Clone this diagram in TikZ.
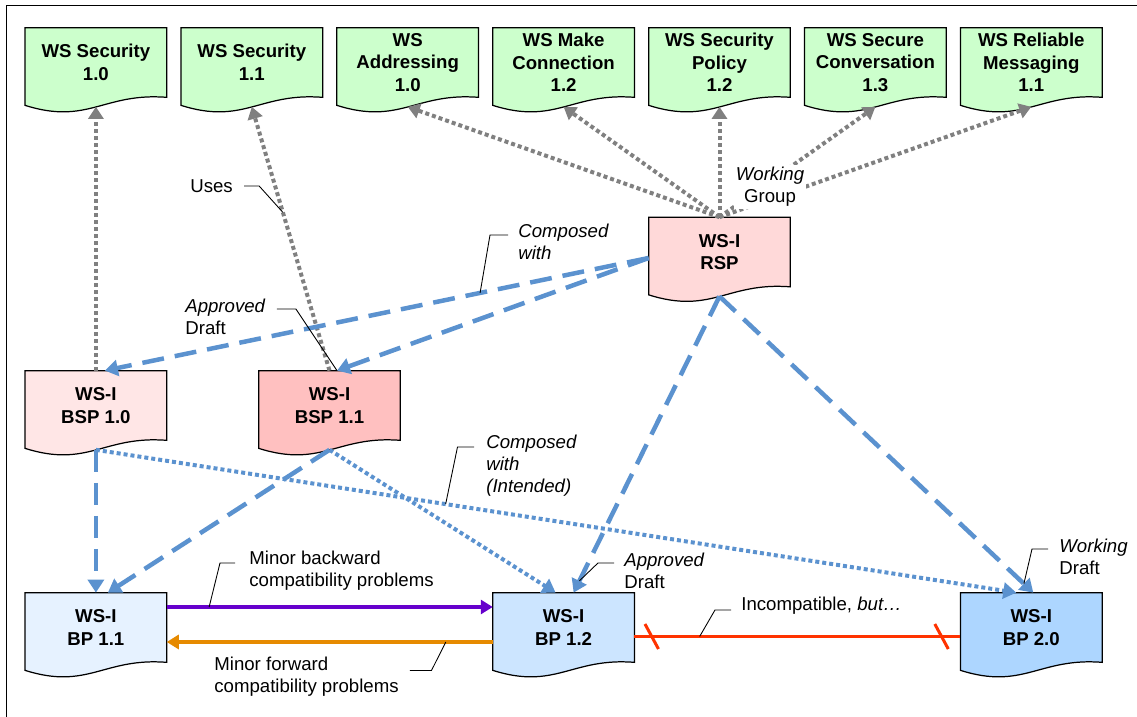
\documentclass[tikz,border=0pt]{standalone}
\usepackage{fontspec}
\setmainfont{Liberation Sans}
\usepackage{xcolor}
\usepackage{tikz}
\usetikzlibrary{arrows.meta}
\pgfdeclarelayer{background}
\pgfsetlayers{background,main}
\definecolor{specgreen}{RGB}{204,255,204}
\definecolor{bspone}{RGB}{255,230,230}
\definecolor{bsptwo}{RGB}{255,192,192}
\definecolor{rsppink}{RGB}{255,217,217}
\definecolor{bpone}{RGB}{230,242,255}
\definecolor{bptwo}{RGB}{204,229,255}
\definecolor{bpthree}{RGB}{173,214,255}
\definecolor{usesgray}{RGB}{128,128,128}
\definecolor{wsiblue}{RGB}{91,146,207}
\definecolor{backpurple}{RGB}{102,0,204}
\definecolor{fwdorange}{RGB}{230,138,0}
\definecolor{incred}{RGB}{255,51,0}
\newcommand{\docoutline}[2]{%
  \draw[docline,fill=#2] (#1.north west) -- (#1.north east) -- (#1.south east)
    .. controls +(-63,5) and +(63,-20) .. ([yshift=-1.6mm]#1.south west) -- cycle;}
\tikzset{docbox/.style={minimum width=28.2mm,minimum height=13.8mm,inner sep=0pt,align=center,
           font=\fontsize{10.6}{12.8}\selectfont\bfseries},
         docline/.style={draw=black,line width=0.7pt},
         lbl/.style={inner sep=0pt,align=left,anchor=west,font=\fontsize{10.6}{12.6}\selectfont},
         leader/.style={draw=black,line width=0.5pt},
         uses/.style={draw=usesgray,line width=0.8mm,dash pattern=on 0.8mm off 0.6mm,
           -{Triangle[width=3mm,length=2.4mm]}},
         composed/.style={draw=wsiblue,line width=0.9mm,dash pattern=on 4.4mm off 2.2mm,
           -{Triangle[width=3.2mm,length=2.6mm]}},
         intended/.style={draw=wsiblue,line width=0.8mm,dash pattern=on 0.8mm off 0.6mm,
           -{Triangle[width=3.2mm,length=2.6mm]}},
         compatarrow/.style={line width=0.8mm,-{Triangle[width=2.8mm,length=2.4mm]}},
         incline/.style={draw=incred,line width=0.6mm}}

\begin{document}
\begin{tikzpicture}[x=0.2mm,y=0.2mm]
\useasboundingbox (0,0) rectangle (1137,717);
\draw[line width=0.25mm] (6.5,-10) |- (1150,711.5);
\node[docbox] (wssec10) at (95.9,654.5) {WS Security\\1.0};
\node[docbox] (wssec11) at (251.8,654.5) {WS Security\\1.1};
\node[docbox] (wsaddr) at (407.7,654.5) {WS\\Addressing\\1.0};
\node[docbox] (wsmc) at (563.6,654.5) {WS Make\\Connection\\1.2};
\node[docbox] (wssp) at (719.5,654.5) {WS Security\\Policy\\1.2};
\node[docbox] (wssc) at (875.4,654.5) {WS Secure\\Conversation\\1.3};
\node[docbox] (wsrm) at (1031.3,654.5) {WS Reliable\\Messaging\\1.1};
\node[docbox] (rsp) at (719.5,465) {WS-I\\RSP};
\node[docbox] (bsp10) at (95.9,311.5) {WS-I\\BSP 1.0};
\node[docbox] (bsp11) at (329.5,311.5) {WS-I\\BSP 1.1};
\node[docbox] (bp11) at (95.9,89.5) {WS-I\\BP 1.1};
\node[docbox] (bp12) at (563.6,89.5) {WS-I\\BP 1.2};
\node[docbox] (bp20) at (1031.3,89.5) {WS-I\\BP 2.0};
\begin{pgfonlayer}{background}
\docoutline{wssec10}{specgreen}
\docoutline{wssec11}{specgreen}
\docoutline{wsaddr}{specgreen}
\docoutline{wsmc}{specgreen}
\docoutline{wssp}{specgreen}
\docoutline{wssc}{specgreen}
\docoutline{wsrm}{specgreen}
\docoutline{rsp}{rsppink}
\docoutline{bsp10}{bspone}
\docoutline{bsp11}{bsptwo}
\docoutline{bp11}{bpone}
\docoutline{bp12}{bptwo}
\docoutline{bp20}{bpthree}
\end{pgfonlayer}
\draw[uses] (bsp10.north) -- ([yshift=-1.9mm]wssec10.south);
\draw[uses] (bsp11.north) -- ([yshift=-1.9mm]wssec11.south) coordinate[pos=0.6] (usesat);
\draw[uses] (rsp.north) -- ([yshift=-1.9mm]wsaddr.south);
\draw[uses] (rsp.north) -- ([yshift=-1.9mm]wsmc.south);
\draw[uses] (rsp.north) -- ([yshift=-1.9mm]wssp.south);
\draw[uses] (rsp.north) -- ([yshift=-1.9mm]wssc.south);
\draw[uses] (rsp.north) -- ([yshift=-1.9mm]wsrm.south);
\node[lbl,anchor=center,align=center,fill=white,inner sep=1pt] (wgl) at (770,530) {\textit{Working}\\Group};
\draw[composed] ([yshift=-1.2mm]rsp.west) -- ([xshift=1.8mm]bsp10.north) coordinate[pos=0.31] (composedat);
\draw[composed] ([yshift=-1.2mm]rsp.west) -- ([xshift=1.5mm]bsp11.north) coordinate (bsptip);
\draw[composed] ([yshift=-1.9mm]rsp.south) -- ([xshift=2mm]bp12.north) coordinate[pos=0.96] (apprat);
\draw[composed] ([yshift=-1.9mm]rsp.south) -- ([xshift=0.4mm]bp20.north) coordinate[pos=0.97] (workat);
\draw[composed] ([yshift=-1.9mm]bsp10.south) -- (bp11.north);
\draw[composed] ([yshift=-1.9mm]bsp11.south) -- ([xshift=2.4mm]bp11.north);
\draw[intended] ([yshift=-1.9mm]bsp10.south) -- ([xshift=-3mm]bp20.north) coordinate[pos=0.38] (intat);
\draw[intended] ([yshift=-1.9mm]bsp11.south) -- ([xshift=-1.6mm]bp12.north);
\draw[compatarrow,backpurple] ([yshift=4.1mm]bp11.east) -- ([yshift=4.1mm]bp12.west) coordinate[pos=0.13] (backat);
\draw[compatarrow,fwdorange] ([yshift=-2.9mm]bp12.west) -- ([yshift=-2.9mm]bp11.east) coordinate[pos=0.144] (fwdat);
\draw[incline] ([yshift=-1.8mm]bp12.east) -- ([yshift=-1.8mm]bp20.west)
  coordinate[pos=0.053] (tickl) coordinate[pos=0.942] (tickr) coordinate[pos=0.2] (incat);
\draw[incline] ([shift={(-6.75,12.5)}]tickl) -- ([shift={(6.75,-12.5)}]tickl);
\draw[incline] ([shift={(-6.75,12.5)}]tickr) -- ([shift={(6.75,-12.5)}]tickr);
\node[lbl] (usesl) at (190,531) {Uses};
\draw[leader] ([xshift=2.2mm]usesl.east) -- ++(3mm,0) -- (usesat);
\node[lbl] (compl) at (518,475) {\textit{Composed}\\\textit{with}};
\draw[leader] ([xshift=-2mm,yshift=1.4mm]compl.west) -- ++(-3.6mm,0) -- (composedat);
\node[lbl] (apprl) at (185,400.5) {\textit{Approved}\\Draft};
\draw[leader] ([xshift=2.2mm,yshift=1.5mm]apprl.east) -- ++(3.8mm,0) -- (bsptip);
\node[lbl] (intl) at (486,251.5) {\textit{Composed}\\\textit{with}\\\textit{(Intended)}};
\draw[leader] ([xshift=-2.4mm,yshift=3.7mm]intl.west) -- ++(-3.3mm,0) -- (intat);
\node[lbl] (backl) at (249,146) {Minor backward\\compatibility problems};
\draw[leader] ([xshift=-2.8mm,yshift=1.6mm]backl.west) -- ++(-3mm,0) -- (backat);
\node[lbl] (fwdl) at (214,40.5) {Minor forward\\compatibility problems};
\draw[leader] ([xshift=2.2mm,yshift=1.2mm]fwdl.east) -- ++(4.3mm,0) -- (fwdat);
\node[lbl] (appr2l) at (624,146) {\textit{Approved}\\Draft};
\draw[leader] ([xshift=-2mm,yshift=1.6mm]appr2l.west) -- ++(-3.2mm,0) -- (apprat);
\node[lbl] (wdl) at (1059,160) {\textit{Working}\\Draft};
\draw[leader] ([xshift=-2.2mm,yshift=1.6mm]wdl.west) -- ++(-3.2mm,0) -- (workat);
\node[lbl] (incl) at (741,111) {Incompatible, \textit{but…}};
\draw[leader] ([xshift=-2mm,yshift=-0.8mm]incl.west) -- ++(-3.2mm,0) -- (incat);
\end{tikzpicture}
\end{document}
